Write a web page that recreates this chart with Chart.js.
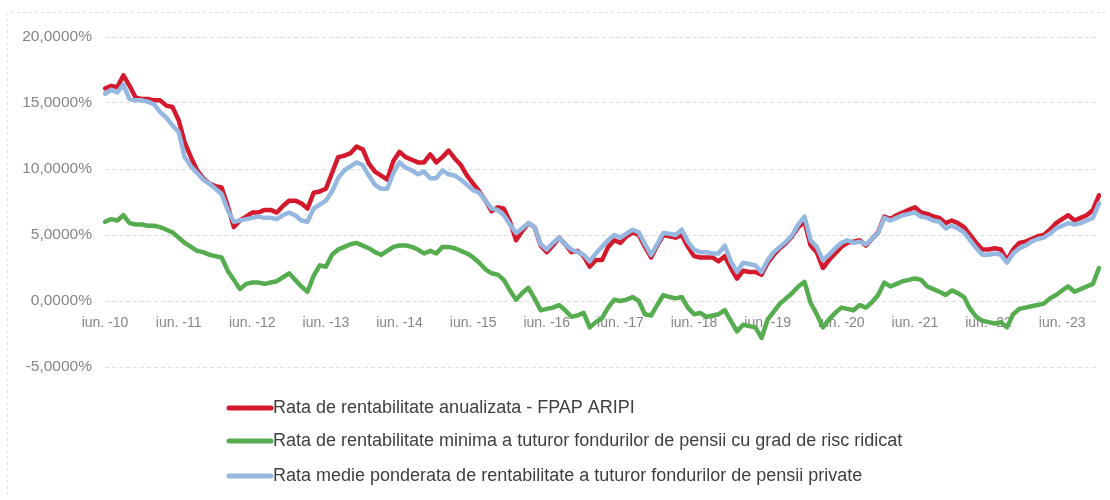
<!DOCTYPE html>
<html>
<head>
<meta charset="utf-8">
<script src="https://cdn.jsdelivr.net/npm/chart.js@4/dist/chart.umd.min.js"></script>
<style>
  html, body { margin: 0; padding: 0; background: #fff; }
  #wrap { width: 1110px; height: 500px; }
</style>
</head>
<body>
<div id="wrap"><canvas id="chart"></canvas></div>
<script>
// monthly values, iun. 2010 .. dec. 2023 (one row per year, iun -> mai)
const aripiRate = [
  16.1, 16.3, 16.2, 17.1, 16.3, 15.4, 15.3, 15.3, 15.2, 15.2, 14.8, 14.7,
  13.7, 12.0, 10.9, 9.9, 9.3, 8.9, 8.7, 8.6, 7.2, 5.6, 6.1, 6.4,
  6.7, 6.7, 6.9, 6.9, 6.7, 7.2, 7.6, 7.6, 7.4, 7.0, 8.2, 8.3,
  8.5, 9.7, 10.9, 11.0, 11.2, 11.7, 11.5, 10.4, 9.8, 9.5, 9.2, 10.6,
  11.3, 10.9, 10.7, 10.5, 10.5, 11.1, 10.5, 10.9, 11.4, 10.8, 10.3, 9.5,
  8.9, 8.3, 7.6, 6.8, 7.1, 7.0, 6.0, 4.6, 5.3, 5.9, 5.6, 4.2,
  3.7, 4.2, 4.8, 4.3, 3.7, 3.8, 3.4, 2.6, 3.1, 3.1, 4.1, 4.6,
  4.4, 4.9, 5.2, 5.0, 4.1, 3.3, 4.2, 5.0, 4.9, 4.8, 5.0, 4.1,
  3.4, 3.3, 3.3, 3.3, 3.0, 3.4, 2.5, 1.7, 2.3, 2.2, 2.2, 2.0,
  2.9, 3.5, 4.0, 4.4, 4.9, 5.6, 6.0, 4.2, 3.7, 2.5, 3.1, 3.6,
  4.1, 4.4, 4.5, 4.6, 4.2, 4.7, 5.2, 6.4, 6.2, 6.5, 6.7, 6.9,
  7.1, 6.7, 6.6, 6.4, 6.3, 5.9, 6.1, 5.9, 5.6, 5.0, 4.4, 3.9,
  3.9, 4.0, 3.9, 3.1, 3.9, 4.4, 4.5, 4.7, 4.9, 5.0, 5.4, 5.9,
  6.2, 6.5, 6.1, 6.3, 6.5, 6.9, 8.0
];

const minimumRate = [
  6.0, 6.2, 6.1, 6.5, 5.9, 5.8, 5.8, 5.7, 5.7, 5.6, 5.4, 5.2,
  4.8, 4.4, 4.1, 3.8, 3.7, 3.5, 3.4, 3.3, 2.3, 1.6, 0.9, 1.3,
  1.4, 1.4, 1.3, 1.4, 1.5, 1.8, 2.1, 1.6, 1.1, 0.7, 1.9, 2.7,
  2.6, 3.5, 3.9, 4.1, 4.3, 4.4, 4.2, 4.0, 3.7, 3.5, 3.8, 4.1,
  4.2, 4.2, 4.1, 3.9, 3.6, 3.8, 3.6, 4.1, 4.1, 4.0, 3.8, 3.6,
  3.3, 2.9, 2.4, 2.1, 2.0, 1.6, 0.8, 0.1, 0.6, 1.0, 0.2, -0.7,
  -0.6, -0.5, -0.3, -0.7, -1.2, -1.1, -0.9, -2.0, -1.6, -1.3, -0.5, 0.1,
  0.0, 0.1, 0.3, 0.0, -1.0, -1.1, -0.3, 0.45, 0.3, 0.2, 0.3, -0.5,
  -1.0, -0.9, -1.2, -1.1, -1.0, -0.7, -1.5, -2.3, -1.8, -1.9, -2.0, -2.8,
  -1.4, -0.8, -0.2, 0.2, 0.6, 1.1, 1.45, -0.15, -1.0, -2.0, -1.4, -0.9,
  -0.5, -0.6, -0.7, -0.3, -0.5, -0.1, 0.45, 1.4, 1.1, 1.3, 1.5, 1.6,
  1.7, 1.6, 1.1, 0.9, 0.7, 0.45, 0.8, 0.6, 0.3, -0.6, -1.2, -1.5,
  -1.6, -1.7, -1.6, -2.0, -1.0, -0.6, -0.5, -0.4, -0.3, -0.2, 0.2, 0.45,
  0.8, 1.1, 0.7, 0.9, 1.1, 1.3, 2.5
];

const averageRate = [
  15.7, 16.0, 15.8, 16.4, 15.3, 15.2, 15.2, 15.1, 14.9, 14.3, 13.9, 13.3,
  12.8, 10.9, 10.2, 9.7, 9.2, 8.9, 8.5, 8.1, 6.9, 6.0, 6.1, 6.2,
  6.3, 6.4, 6.3, 6.3, 6.2, 6.5, 6.7, 6.5, 6.1, 6.0, 7.0, 7.3,
  7.6, 8.3, 9.3, 9.9, 10.2, 10.5, 10.3, 9.5, 8.8, 8.5, 8.5, 9.7,
  10.5, 10.1, 9.9, 9.6, 9.8, 9.3, 9.3, 9.9, 9.6, 9.5, 9.2, 8.8,
  8.4, 8.2, 7.6, 7.0, 6.9, 6.5, 5.8, 5.15, 5.5, 5.9, 5.6, 4.3,
  3.9, 4.4, 4.8, 4.3, 3.9, 3.7, 3.5, 3.0, 3.6, 4.1, 4.6, 5.0,
  4.8, 5.1, 5.4, 5.2, 4.3, 3.5, 4.3, 5.15, 5.1, 5.0, 5.4, 4.5,
  3.9, 3.7, 3.7, 3.6, 3.6, 4.2, 3.0, 2.2, 2.9, 2.8, 2.7, 2.2,
  3.1, 3.7, 4.1, 4.5, 5.0, 5.8, 6.4, 4.6, 4.1, 3.1, 3.5, 4.0,
  4.4, 4.6, 4.4, 4.5, 4.3, 4.7, 5.15, 6.3, 6.1, 6.3, 6.5, 6.6,
  6.7, 6.4, 6.3, 6.1, 6.0, 5.5, 5.7, 5.5, 5.2, 4.6, 4.0, 3.5,
  3.5, 3.6, 3.5, 2.9, 3.6, 4.0, 4.2, 4.5, 4.7, 4.8, 5.1, 5.5,
  5.7, 5.9, 5.8, 5.9, 6.1, 6.3, 7.4
];

const monthNames = ['ian.', 'feb.', 'mar.', 'apr.', 'mai', 'iun.', 'iul.', 'aug.', 'sep.', 'oct.', 'nov.', 'dec.'];
const firstYear = 2010;
const firstMonth = 5; // iun.

const seriesNames = [
  'Rata de rentabilitate anualizata - FPAP ARIPI',
  'Rata de rentabilitate minima a tuturor fondurilor de pensii cu grad de risc ridicat',
  'Rata medie ponderata de rentabilitate a tuturor fondurilor de pensii private'
];

const yTicks = [-5, 0, 5, 10, 15, 20];

const labels = aripiRate.map((v, i) => {
  const m = firstMonth + i;
  const yy = String((firstYear + Math.floor(m / 12)) % 100).padStart(2, '0');
  return monthNames[m % 12] + ' -' + yy;
});

const RED = '#d5192d';
const GREEN = '#55ad4f';
const BLUE = '#95b7e0';
const TICK_COLOR = '#858585';
const FONT = 'Liberation Sans, Arial, sans-serif';

// legend drawn under the plot as a vertical list + pale outer border
const extras = {
  id: 'extras',
  beforeDraw(chart) {
    const ctx = chart.ctx;
    ctx.save();
    ctx.strokeStyle = '#e4e4e4';
    ctx.lineWidth = 1;
    ctx.setLineDash([3, 3]);
    ctx.beginPath();
    ctx.moveTo(7.5, 495);
    ctx.lineTo(7.5, 12.5);
    ctx.lineTo(1105, 12.5);
    ctx.stroke();
    ctx.restore();
  },
  afterDraw(chart) {
    const ctx = chart.ctx;
    ctx.save();
    ctx.font = '18px ' + FONT;
    ctx.textBaseline = 'middle';
    const rows = [408, 441, 476];
    chart.data.datasets.forEach((ds, i) => {
      const y = rows[i];
      ctx.strokeStyle = ds.borderColor;
      ctx.lineWidth = 5;
      ctx.lineCap = 'round';
      ctx.beginPath();
      ctx.moveTo(229, y);
      ctx.lineTo(271, y);
      ctx.stroke();
      ctx.fillStyle = '#404040';
      ctx.fillText(ds.label, 273, y);
    });
    ctx.restore();
  }
};

new Chart(document.getElementById('chart'), {
  type: 'line',
  data: {
    labels: labels,
    datasets: [
      { label: seriesNames[0], data: aripiRate, borderColor: RED, order: 1 },
      { label: seriesNames[1], data: minimumRate, borderColor: GREEN, order: 2 },
      { label: seriesNames[2], data: averageRate, borderColor: BLUE, order: 0 }
    ]
  },
  options: {
    responsive: true,
    maintainAspectRatio: false,
    animation: false,
    elements: {
      point: { radius: 0 },
      line: { borderWidth: 4.5, tension: 0, borderJoinStyle: 'round', borderCapStyle: 'round' }
    },
    layout: { padding: { left: 0, right: 11, top: 37, bottom: 133 } },
    plugins: {
      legend: { display: false },
      tooltip: { enabled: false }
    },
    scales: {
      x: {
        position: { y: 0 },
        offset: false,
        grid: { display: false, drawTicks: false },
        border: { display: false },
        ticks: {
          autoSkip: false,
          maxRotation: 0,
          padding: 14,
          color: TICK_COLOR,
          font: { family: FONT, size: 14 },
          callback: (val, i) => (i % 12 === 0 ? labels[i] : null)
        }
      },
      y: {
        min: yTicks[0],
        max: yTicks[yTicks.length - 1],
        afterFit: (scale) => { scale.width = 105; },
        afterBuildTicks: (scale) => { scale.ticks = yTicks.map(v => ({ value: v })); },
        grid: { color: '#dcdcdc', drawTicks: false, lineWidth: 1 },
        border: { display: false, dash: [4, 3] },
        ticks: {
          padding: 13,
          color: TICK_COLOR,
          font: { family: FONT, size: 15.5 },
          callback: (v) => v.toFixed(4).replace('.', ',') + '%'
        }
      }
    }
  },
  plugins: [extras]
});
</script>
</body>
</html>
